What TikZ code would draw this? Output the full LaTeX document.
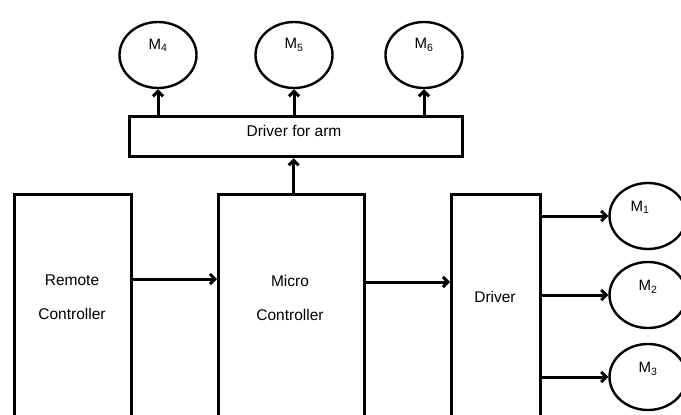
\documentclass[tikz,border=0pt]{standalone}
\usepackage{fontspec}
\setmainfont{Liberation Sans}
\usetikzlibrary{positioning,arrows.meta,shapes.geometric}

\begin{document}
\begin{tikzpicture}[x=1pt,y=-1pt,
    font=\fontsize{15.5}{34}\selectfont,
    blk/.style={draw,line width=3.2pt,anchor=north west,inner sep=0pt},
    motor/.style={draw,ellipse,line width=2.4pt,minimum width=77pt,minimum height=66pt,inner sep=0pt},
    mlab/.style={font=\fontsize{15}{16}\selectfont},
    txt/.style={align=center},
    arr/.style={line width=3pt,-{Straight Barb[length=5pt,width=10pt]}}]
  \useasboundingbox (0,0) rectangle (681,415);
  \clip (0,0) rectangle (681,415);
  % blocks
  \node[blk,minimum width=117pt,minimum height=260pt] (rc) at (13,193) {};
  \node[blk,minimum width=146pt,minimum height=260pt] (mc) at (217,193) {};
  \node[blk,minimum width=89pt,minimum height=260pt] (dr) at (450,193) {};
  \node[blk,minimum width=333pt,minimum height=40pt] (arm) at (128,115) {};
  \node[txt] (rct) at (72,297) {Remote\\Controller};
  \node[txt] (mct) at (290,298) {Micro\\Controller};
  \node[txt] (drt) at (495,297) {Driver};
  \node[txt] (armt) at (294,131) {Driver for arm};
  % motors
  \node[motor] (m4) at (158,55) {};
  \node[motor] (m5) at (294,55) {};
  \node[motor] (m6) at (424,55) {};
  \node[motor] (m1) at (648,216) {};
  \node[motor] (m2) at (648,295) {};
  \node[motor] (m3) at (648,377) {};
  \foreach \m/\k in {m4/4,m5/5,m6/6}
    \node[mlab] (\m l) at ([yshift=10pt]\m.center) {M\textsubscript{\k}};
  \node[mlab] (m1l) at ([xshift=-8pt,yshift=9pt]m1.center) {M\textsubscript{1}};
  \node[mlab] (m2l) at ([yshift=8pt]m2.center) {M\textsubscript{2}};
  \node[mlab] (m3l) at ([yshift=8pt]m3.center) {M\textsubscript{3}};
  % signal flow
  \draw[arr] ([yshift=-86pt]rc.north east) -- ([yshift=-86pt]mc.north west);
  \draw[arr] ([yshift=-89pt]mc.north east) -- ([yshift=-89pt]dr.north west);
  \draw[arr] ([xshift=2pt]mc.north) -- ([xshift=2pt]mc.north |- arm.south);
  \foreach \m in {m4,m5,m6}
    \draw[arr] (\m.south |- arm.north) -- (\m.south);
  \foreach \m in {m1,m2,m3}
    \draw[arr] (dr.east |- \m.west) -- (\m.west);
\end{tikzpicture}
\end{document}
